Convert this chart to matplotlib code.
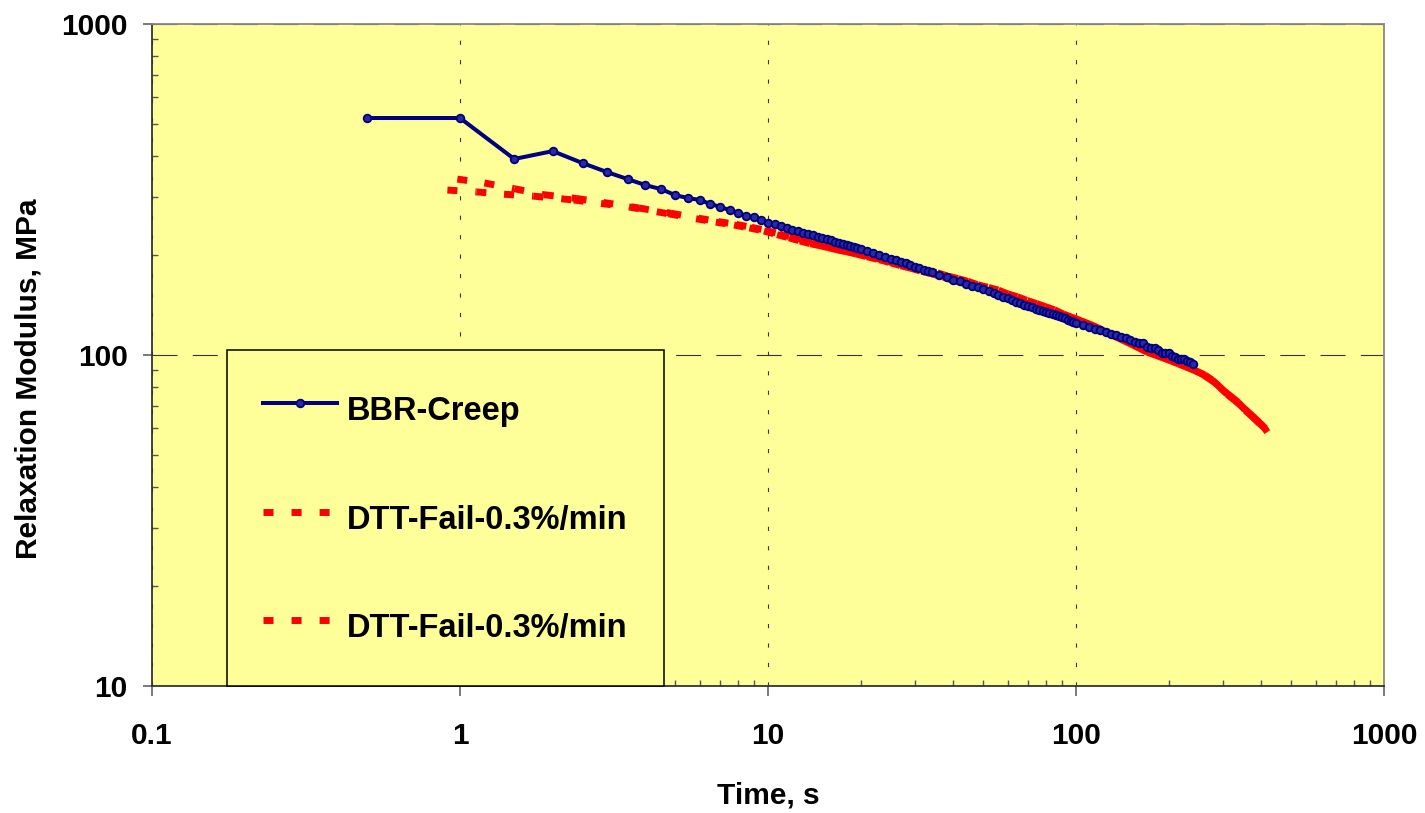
import numpy as np
import matplotlib
matplotlib.use('Agg')
from matplotlib import pyplot as plt
from matplotlib.collections import LineCollection
from matplotlib.lines import Line2D
from matplotlib.ticker import LogLocator, FixedLocator, NullFormatter

plt.rcParams['font.family'] = ['Liberation Sans', 'DejaVu Sans']
plt.rcParams['font.weight'] = 'bold'
plt.rcParams['lines.scale_dashes'] = False

# BBR creep (time s, modulus MPa)
bbr_time = [0.5, 1, 1.5, 2, 2.5, 3, 3.5, 4, 4.5, 5, 5.5, 6, 6.5, 7, 7.5, 8, 8.5, 9, 9.5, 10,
            10.5, 11, 11.5, 12, 12.5, 13, 13.5, 14, 14.5, 15, 15.5, 16, 16.5, 17, 17.5, 18, 18.5, 19, 19.5, 20,
            21, 22, 23, 24, 25, 26, 27, 28, 29, 30, 31, 32, 33, 34,
            36, 38, 40, 42, 44, 46, 48, 50, 52, 54, 56, 58, 60, 62, 64, 66, 68, 70, 72, 74, 76, 78, 80,
            82, 84, 86, 88, 90, 92, 94, 96, 98, 100,
            105, 110, 115, 120, 125, 130, 135, 140, 145, 150, 155, 160, 165, 170, 175, 180, 185, 190,
            195, 200, 205, 210, 215, 220, 225, 230, 235, 240]
bbr_modulus = [520, 520, 391, 413, 380, 357, 340, 326, 317, 304, 298, 294, 286, 280, 274, 269, 263, 261, 256, 251,
               248, 245, 242, 239, 237, 234, 232, 230, 228, 226, 224, 222, 220, 218, 217, 215, 214, 212, 211, 209,
               206, 203, 200, 198, 195, 193, 191, 189, 187, 185, 183, 181, 180, 178,
               175, 172, 169, 167, 164, 162, 160, 158, 156, 154, 152, 150, 149, 147, 145, 144, 142, 141, 140, 138, 137, 136, 135,
               134, 133, 132, 131, 130, 129, 128, 127, 126, 125,
               123.3, 121.6, 120.1, 118.6, 117.2, 115.9, 114.7, 113.5, 112.3, 111.1, 109.7, 108.5, 108.6, 106.0, 105.2, 105.0, 103.2, 101.5,
               101.3, 101.2, 99.5, 98.7, 97.2, 97.1, 97.0, 95.6, 95.4, 94.2]

# DTT failure tests, two runs
dtt1_time = [0.91, 1.13, 1.39, 1.73, 2.34, 2.87, 3.54, 4.76, 5.84, 6.77, 7.76, 8.7, 9.7, 10.7, 11.7, 12.7, 13.7, 14.7,
             15.7, 16.7, 18, 19.3,
             21, 23, 25, 27, 29, 31.5, 34, 37, 40, 43, 46, 50, 54, 58, 62, 67, 72, 77, 82, 88, 94, 100,
             107, 114, 121, 129, 137, 146, 155, 165, 175, 186, 197, 209, 221, 234, 248, 262, 277, 293,
             310, 327, 345, 364, 384, 405, 418]
dtt1_modulus = [315, 311, 306, 302, 294, 287, 280, 267, 258, 252, 247, 242, 237, 231, 226, 221, 217, 214,
                211, 208, 205, 202,
                198, 194, 190, 186, 183, 179, 176, 172, 168, 165, 162, 158, 155, 151, 148, 145, 141, 138, 135, 132, 130, 128,
                125, 122, 119, 116, 113, 110, 107, 104, 102, 100, 98, 96, 94, 92, 89, 87, 84, 80,
                76, 73, 70, 67, 64, 61, 58.5]
dtt2_time = [0.98, 1.2, 1.5, 1.87, 2.39, 2.92, 3.81, 4.85, 5.95, 6.9, 7.9, 8.85, 9.85, 10.9, 11.9, 12.9, 13.9, 15,
             16.2, 17.4, 18.7, 20.1,
             22, 24, 26, 28, 30.2, 32.7, 35.5, 38.5, 41.5, 44.5, 48, 52, 56, 60, 64.5, 69.5, 74.5, 79.5, 85, 91,
             97, 103.5, 110.5, 117.5, 125, 133, 141.5, 150.5, 160, 170, 180.5, 191.5, 203, 215, 227.5, 241,
             255, 269.5, 285, 301.5, 318.5, 336, 354.5, 374, 394.5, 412]
dtt2_modulus = [340, 331, 318, 305, 297, 289, 278, 268, 259, 253, 248, 243, 238, 232, 227, 223, 219, 216,
                212, 208, 205, 201,
                197, 193, 189, 186, 183, 180, 177, 173, 170, 167, 163, 160, 157, 153, 150, 146, 143, 140, 137, 133,
                130, 127, 124, 121, 117, 114, 111, 108, 105, 102, 100, 98, 96, 94, 92, 90,
                88, 85, 82, 78, 75, 72, 68, 65, 62, 60]

labels = ['BBR-Creep', 'DTT-Fail-0.3%/min', 'DTT-Fail-0.3%/min']
x_ticks = [0.1, 1, 10, 100, 1000]
x_tick_labels = ['0.1', '1', '10', '100', '1000']
y_ticks = [10, 100, 1000]
y_tick_labels = ['10', '100', '1000']

NAVY = '#000080'
RED = '#FF0000'
YELLOW = '#FFFF99'
red_dash = (0, (7.2, 13))
red_lw = 5.0
blue_style = dict(color=NAVY, lw=2.9, marker='o', ms=5.5, mfc='#2a2a9e', mec=NAVY, mew=1.3)

fig = plt.figure(figsize=(14.25, 8.13), dpi=100)
ax = fig.add_axes([152 / 1425, 127 / 813, 1232 / 1425, 662 / 813])
ax.set_facecolor(YELLOW)
ax.set_xscale('log')
ax.set_yscale('log')
ax.set_xlim(0.1, 1000)
ax.set_ylim(10, 1000)

# excel restarts the dash on every segment, so draw segment by segment
for t, e in [(dtt1_time, dtt1_modulus), (dtt2_time, dtt2_modulus)]:
    pts = np.column_stack([t, e])
    segs = np.stack([pts[:-1], pts[1:]], axis=1)
    lc = LineCollection(segs, colors=RED, linewidths=red_lw, linestyles=[red_dash], capstyle='butt', zorder=3)
    ax.add_collection(lc)

ax.plot(bbr_time, bbr_modulus, zorder=4, **blue_style)

# grid
ax.xaxis.grid(True, which='major', color='#333333', lw=0.8, linestyle=(0, (3, 11)))
ax.yaxis.grid(True, which='major', color='#333333', lw=0.8, linestyle=(0, (18, 11)))
ax.set_axisbelow(True)

ax.xaxis.set_major_locator(FixedLocator(x_ticks))
ax.set_xticklabels(x_tick_labels)
ax.yaxis.set_major_locator(FixedLocator(y_ticks))
ax.set_yticklabels(y_tick_labels)
ax.xaxis.set_minor_locator(LogLocator(base=10, subs=np.arange(2, 10)))
ax.yaxis.set_minor_locator(LogLocator(base=10, subs=np.arange(2, 10)))
ax.xaxis.set_minor_formatter(NullFormatter())
ax.yaxis.set_minor_formatter(NullFormatter())

ax.tick_params(axis='x', which='major', direction='out', length=7.2, width=1.1, color='#555555',
               labelsize=21.5, pad=19)
ax.tick_params(axis='y', which='major', direction='out', length=6.5, width=1.1, color='#555555',
               labelsize=21.5, pad=11)
ax.tick_params(which='minor', direction='in', length=4.3, width=1.0, color='#555555')

for s in ['left', 'bottom']:
    ax.spines[s].set_color('#333333')
    ax.spines[s].set_linewidth(1.3)
for s in ['top', 'right']:
    ax.spines[s].set_color('#888888')
    ax.spines[s].set_linewidth(1.3)

ax.set_xlabel('Time, s', fontsize=21.5, fontweight='bold')
ax.set_ylabel('Relaxation Modulus, MPa', fontsize=21.5, fontweight='bold')
ax.xaxis.set_label_coords(0.5, -0.145)
ax.yaxis.set_label_coords(-0.089, 0.4645)

handles = [
    Line2D([], [], **blue_style),
    Line2D([], [], color=RED, lw=red_lw, linestyle=red_dash),
    Line2D([], [], color=RED, lw=red_lw, linestyle=red_dash),
]
leg = ax.legend(handles, labels, loc='lower left', bbox_to_anchor=((227 - 152) / 1232, 0.0),
                borderaxespad=0, prop={'size': 23.5, 'weight': 'bold'}, numpoints=1,
                handlelength=2.27, handleheight=1.82, handletextpad=0.31, borderpad=1.1, labelspacing=1.9,
                fancybox=False, framealpha=1, facecolor=YELLOW, edgecolor='black')
leg.get_frame().set_linewidth(1.1)
leg.set_zorder(5)

fig.savefig('out.png', dpi=100, facecolor='white')
